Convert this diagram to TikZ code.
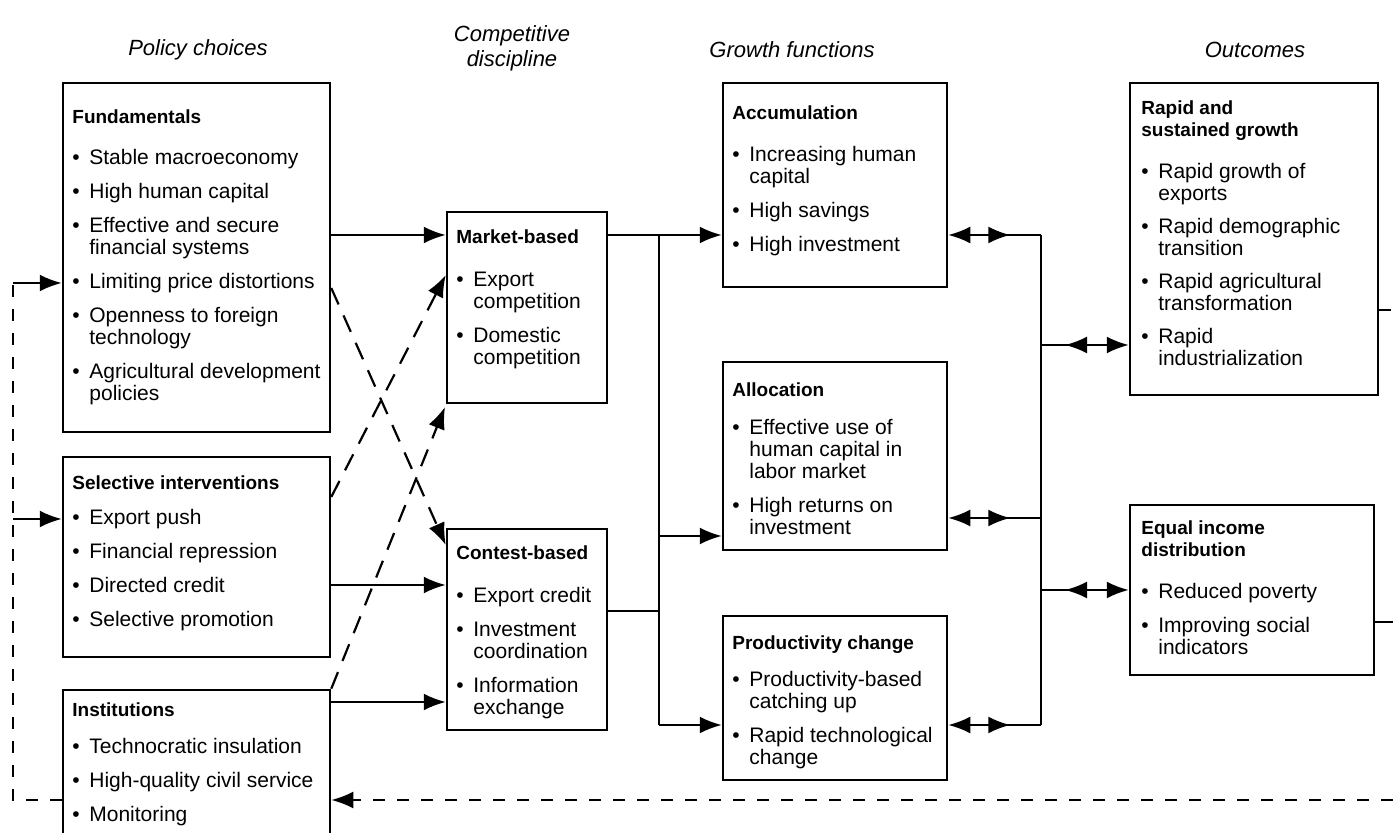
\documentclass[tikz,border=0pt]{standalone}
\usepackage{fontspec}
\setmainfont{Liberation Sans}
\usetikzlibrary{arrows.meta,fit,decorations.markings}
\newcommand{\btitle}[1]{\multicolumn{2}{@{}l@{}}{\fontsize{9.5}{11}\selectfont\bfseries #1}}
\newcommand{\bul}{\textbullet}
\newenvironment{blist}{\begin{tabular}[t]{@{}p{8.5pt}@{}l@{}}}{\end{tabular}}
\begin{document}
\begin{tikzpicture}[x=0.5pt,y=-0.5pt,
  box/.style={draw, line width=1.25pt, inner sep=0pt},
  txt/.style={anchor=base west, inner sep=0pt, font=\fontsize{10.5}{11}\selectfont},
  hdr/.style={font=\fontsize{11}{12.5}\selectfont\itshape, inner sep=0pt, align=center},
  conn/.style={line width=1.1pt},
  arr/.style={line width=1.1pt, -{Latex[length=11pt,width=8.5pt]}},
  dashline/.style={line width=1.1pt, dash pattern=on 6pt off 6pt},
  dasharr/.style={line width=1.1pt, dash pattern=on 6pt off 6pt, -{Latex[length=11pt,width=8.5pt]}},
  diagarr/.style={line width=1.1pt, dash pattern=on 9pt off 6pt, -{Latex[length=11pt,width=8.5pt]}},
  dblL/.style={line width=1.1pt, {Latex[length=11pt,width=8.5pt]}-,
    postaction={decorate}, decoration={markings, mark=at position 31pt with {\arrow{Latex[length=11pt,width=8.5pt]}}}},
  dblR/.style={line width=1.1pt, -{Latex[length=11pt,width=8.5pt]},
    postaction={decorate}, decoration={markings, mark=at position 12pt with {\arrowreversed{Latex[length=11pt,width=8.5pt]}}}}
]
\useasboundingbox (0,0) rectangle (1393,833);
\clip (0,0) rectangle (1393,833);
\fill[white] (0,0) rectangle (1393,833);

% headers
\node[hdr] (hPol) at (198,50) {Policy choices};
\node[hdr] (hCom) at (512,48) {Competitive\\discipline};
\node[hdr] (hGro) at (792,50) {Growth functions};
\node[hdr] (hOut) at (1255,50) {Outcomes};

% policy choices
\node[box, fit={(63,83) (330,432)}] (fund) {};
\node[txt] (fundT) at (72,124) {\begin{blist}
\btitle{Fundamentals}\\[9.25pt]
\bul & Stable macroeconomy\\[6pt]
\bul & High human capital\\[6pt]
\bul & Effective and secure\\
 & financial systems\\[6pt]
\bul & Limiting price distortions\\[6pt]
\bul & Openness to foreign\\
 & technology\\[6pt]
\bul & Agricultural development\\
 & policies
\end{blist}};

\node[box, fit={(63,457) (330,657)}] (sel) {};
\node[txt] (selT) at (72,489.5) {\begin{blist}
\btitle{Selective interventions}\\[6.5pt]
\bul & Export push\\[6pt]
\bul & Financial repression\\[6pt]
\bul & Directed credit\\[6pt]
\bul & Selective promotion
\end{blist}};

\node[box, fit={(63,690) (330,880)}] (inst) {};
\node[txt] (instT) at (72,716.5) {\begin{blist}
\btitle{Institutions}\\[7.5pt]
\bul & Technocratic insulation\\[6pt]
\bul & High-quality civil service\\[6pt]
\bul & Monitoring
\end{blist}};

% competitive discipline
\node[box, fit={(447,212) (607,403)}] (mkt) {};
\node[txt] (mktT) at (456,243.5) {\begin{blist}
\btitle{Market-based}\\[10.5pt]
\bul & Export\\
 & competition\\[6pt]
\bul & Domestic\\
 & competition
\end{blist}};

\node[box, fit={(447,529) (607,730)}] (cont) {};
\node[txt] (contT) at (456,559.5) {\begin{blist}
\btitle{Contest-based}\\[10.5pt]
\bul & Export credit\\[6pt]
\bul & Investment\\
 & coordination\\[6pt]
\bul & Information\\
 & exchange
\end{blist}};

% growth functions
\node[box, fit={(723,83) (947,287)}] (acc) {};
\node[txt] (accT) at (732,119.5) {\begin{blist}
\btitle{Accumulation}\\[10pt]
\bul & Increasing human\\
 & capital\\[6pt]
\bul & High savings\\[6pt]
\bul & High investment
\end{blist}};

\node[box, fit={(723,362) (947,550)}] (alloc) {};
\node[txt] (allocT) at (732,396.5) {\begin{blist}
\btitle{Allocation}\\[8pt]
\bul & Effective use of\\
 & human capital in\\
 & labor market\\[6pt]
\bul & High returns on\\
 & investment
\end{blist}};

\node[box, fit={(723,616) (947,780)}] (prod) {};
\node[txt] (prodT) at (732,649.5) {\begin{blist}
\btitle{Productivity change}\\[7.5pt]
\bul & Productivity-based\\
 & catching up\\[6pt]
\bul & Rapid technological\\
 & change
\end{blist}};

% outcomes
\node[box, fit={(1130,83) (1378,395)}] (rap) {};
\node[txt] (rapT) at (1141,114.5) {\begin{blist}
\btitle{Rapid and}\\
\btitle{sustained growth}\\[10pt]
\bul & Rapid growth of\\
 & exports\\[5.5pt]
\bul & Rapid demographic\\
 & transition\\[5.5pt]
\bul & Rapid agricultural\\
 & transformation\\[5.5pt]
\bul & Rapid\\
 & industrialization
\end{blist}};

\node[box, fit={(1130,505) (1374,675)}] (eq) {};
\node[txt] (eqT) at (1141,534.5) {\begin{blist}
\btitle{Equal income}\\
\btitle{distribution}\\[10pt]
\bul & Reduced poverty\\[6pt]
\bul & Improving social\\
 & indicators
\end{blist}};

% helper coordinates
\coordinate (yA) at (0,235);
\coordinate (yS) at (0,585);
\coordinate (yI) at (0,702);
\coordinate (m1) at (659,235);
\coordinate (m2) at (659,536);
\coordinate (m3) at (659,725);
\coordinate (mc) at (659,611);
\coordinate (r1) at (1041,235);
\coordinate (r2) at (1041,345);
\coordinate (r3) at (1041,518);
\coordinate (r4) at (1041,590);
\coordinate (r5) at (1041,725);
\coordinate (rt) at (1393,310);
\coordinate (re) at (1393,622);
\coordinate (rb) at (1393,800);
\coordinate (lb) at (13,800);
\coordinate (lt) at (13,283);
\coordinate (lm) at (13,519);
\coordinate (d1a) at (0,288);
\coordinate (d1e) at (0,545);
\coordinate (d2a) at (0,497);
\coordinate (d2e) at (0,275);
\coordinate (d3e) at (445,407);

% policy -> discipline
\draw[arr] (fund.east |- yA) -- (mkt.west |- yA);
\draw[arr] (sel.east |- yS) -- (cont.west |- yS);
\draw[arr] (inst.east |- yI) -- (cont.west |- yI);
\draw[diagarr] (fund.east |- d1a) -- (cont.west |- d1e);
\draw[diagarr] (sel.east |- d2a) -- (mkt.west |- d2e);
\draw[diagarr] (inst.north east) -- (d3e);

% discipline -> growth
\draw[arr] (mkt.east |- yA) -- (acc.west |- yA);
\draw[conn] (m1) -- (m3);
\draw[conn] (cont.east |- mc) -- (mc);
\draw[arr] (m2) -- (alloc.west |- m2);
\draw[arr] (m3) -- (prod.west |- m3);

% growth <-> outcomes
\draw[conn] (r1) -- (r5);
\draw[dblL] (acc.east |- r1) -- (r1);
\draw[dblL] (alloc.east |- r3) -- (r3);
\draw[dblL] (prod.east |- r5) -- (r5);
\draw[dblR] (r2) -- (rap.west |- r2);
\draw[dblR] (r4) -- (eq.west |- r4);

% feedback
\draw[dashline] (rap.east |- rt) -- (rt);
\draw[conn] (eq.east |- re) -- (re);
\draw[dasharr] (rb) -- (inst.east |- rb);
\draw[dashline] (inst.west |- lb) -- (lb) -- (lt);
\draw[arr] (lt) -- (fund.west |- lt);
\draw[arr] (lm) -- (sel.west |- lm);
\end{tikzpicture}
\end{document}
